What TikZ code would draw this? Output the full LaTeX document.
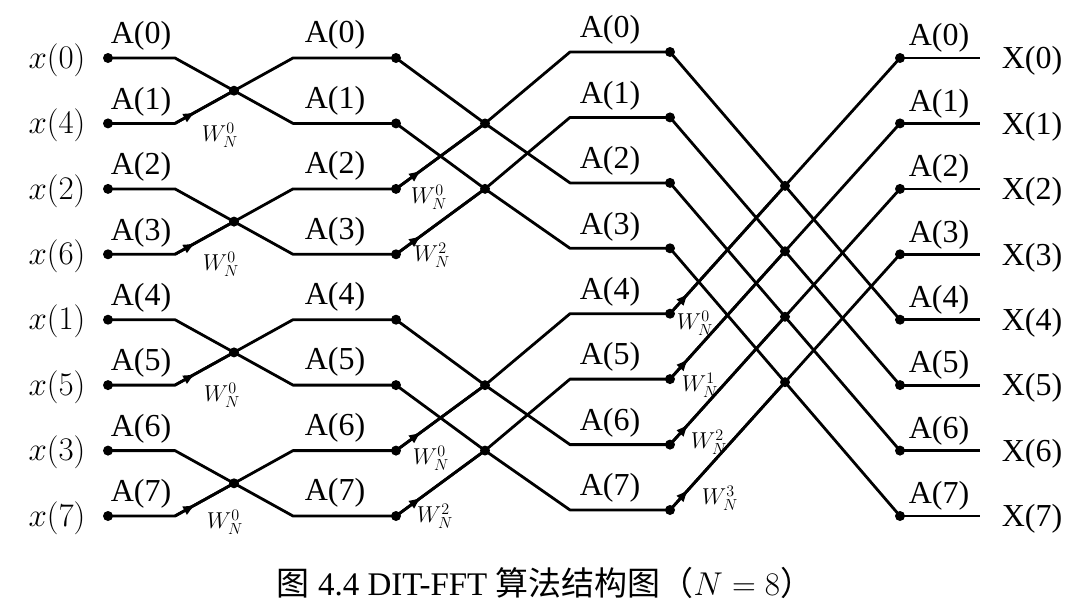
\RequirePackage{fix-cm}
\documentclass[tikz,border=0pt]{standalone}
\usepackage{fontspec}
\setmainfont{Liberation Serif}
\newfontfamily\cjk{Noto Sans CJK SC}
\usetikzlibrary{arrows.meta,decorations.markings,calc}
\begin{document}
\begin{tikzpicture}[x=1pt,y=-1pt,
  wire/.style={line width=2.8pt, line join=round},
  dotnode/.style={circle,fill,inner sep=0pt,minimum size=10pt},
  lab/.style={font=\fontsize{32}{32}\selectfont, inner sep=0pt},
  xlab/.style={font=\fontsize{33}{33}\selectfont, inner sep=0pt},
  wlab/.style={font=\fontsize{23}{23}\selectfont, inner sep=0pt},
  arr/.style={postaction={decorate},decoration={markings,mark=at position #1 with {\arrow{Latex[length=13pt,width=10pt]}}}},
]
\useasboundingbox (0,0) rectangle (1090,611);
\foreach \i/\y/\n in {0/58/0,1/123.4/4,2/188.9/2,3/254.3/6,4/319.7/1,5/385.1/5,6/450.6/3,7/516/7} {
  \node[dotnode] (in\i) at (108,\y) {};
  \coordinate (ba\i) at (175,\y);
  \coordinate (bb\i) at (293,\y);
  \node[dotnode] (sa\i) at (396,\y) {};
  \coordinate (bc\i) at (570,\y-6);
  \node[dotnode] (sb\i) at (670,\y-6) {};
  \node[dotnode] (f\i) at (900,\y) {};
  \coordinate (o\i) at (980,\y);
  \node[xlab] (xl\i) at (57,\y+2) {$x(\n)$};
  \node[lab] (Xl\i) at (1032,\y+3) {X(\i)};
  \node[lab] (la\i) at (141,\y-22) {A(\i)};
  \node[lab] (lb\i) at (335,\y-23) {A(\i)};
  \node[lab] (lc\i) at (610,\y-28) {A(\i)};
  \node[lab] (ld\i) at (939,\y-20) {A(\i)};
}
% stage 1
\foreach \k/\a/\b in {0/0/1,1/2/3,2/4/5,3/6/7} {
  \node[dotnode] (cA\k) at ($(ba\a)!0.5!(bb\b)$) {};
  \draw[wire] (in\a.center) -- (ba\a) -- (cA\k.center) -- (bb\b) -- (sa\b.center);
  \draw[wire] (in\b.center) -- (ba\b) -- (cA\k.center) -- (bb\a) -- (sa\a.center);
  \draw[wire, arr=24pt] (ba\b) -- (cA\k.center);
}
% stage 2
\foreach \k/\a/\b in {0/0/2,1/1/3,2/4/6,3/5/7} {
  \node[dotnode] (cB\k) at ($(sa\a.center)!0.5!(sa\b.center)+(89,0)$) {};
  \draw[wire] (sa\a.center) -- (cB\k.center) -- (bc\b) -- (sb\b.center);
  \draw[wire] (sa\b.center) -- (cB\k.center) -- (bc\a) -- (sb\a.center);
  \draw[wire, arr=32pt] (sa\b.center) -- (cB\k.center);
}
% stage 3
\foreach \k/\a/\b in {0/0/4,1/1/5,2/2/6,3/3/7} {
  \node[dotnode] (cC\k) at ($(sb\a.center)!0.5!(f\b.center)$) {};
  \draw[wire] (sb\a.center) -- (cC\k.center) -- (f\b.center);
  \draw[wire] (sb\b.center) -- (cC\k.center) -- (f\a.center);
  \draw[wire, arr=28pt] (sb\b.center) -- (cC\k.center);
}
\foreach \i in {0,...,7} { \draw[wire] (f\i.center) -- (o\i); }
% twiddle labels
\node[wlab] (w1) at (220,135) {$W_N^0$};
\node[wlab] (w2) at (221,264) {$W_N^0$};
\node[wlab] (w3) at (222,395) {$W_N^0$};
\node[wlab] (w4) at (225,522) {$W_N^0$};
\node[wlab] (w5) at (429,197) {$W_N^0$};
\node[wlab] (w6) at (432,255) {$W_N^2$};
\node[wlab] (w7) at (431,458) {$W_N^0$};
\node[wlab] (w8) at (435,516) {$W_N^2$};
\node[wlab] (w9) at (695,323) {$W_N^0$};
\node[wlab] (w10) at (700,385) {$W_N^1$};
\node[wlab] (w11) at (709,442) {$W_N^2$};
\node[wlab] (w12) at (720,498) {$W_N^3$};
\node[lab, font=\fontsize{33}{33}\selectfont] (cap) at (545,583) {{\cjk 图} 4.4 DIT-FFT {\cjk 算法结构图（}$N=8${\cjk ）}};
\end{tikzpicture}
\end{document}
